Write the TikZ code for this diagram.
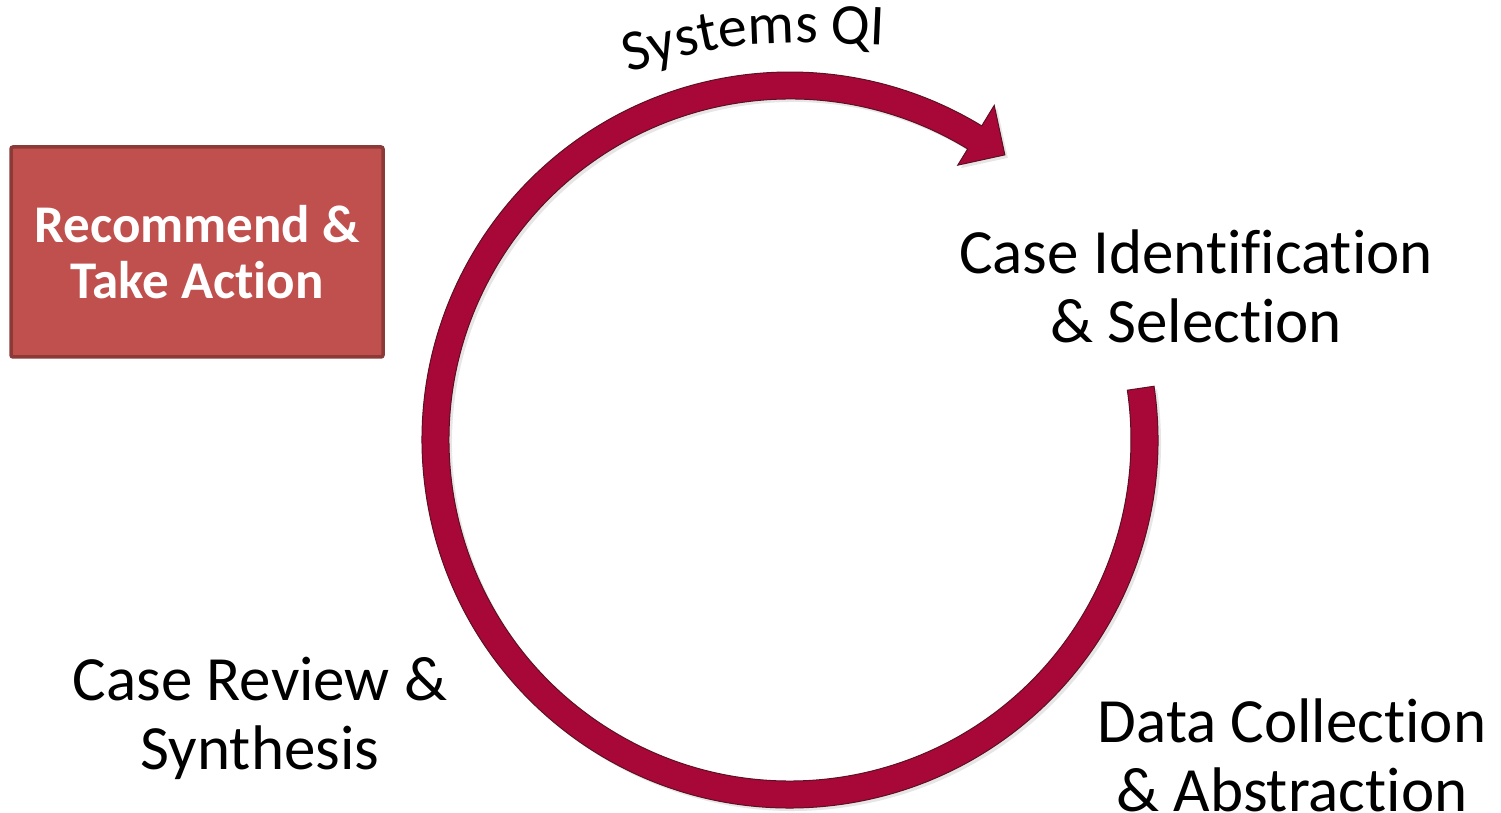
\documentclass[tikz,border=0pt]{standalone}
\usepackage{fontspec}
\setmainfont{Carlito}[Ligatures={NoCommon,NoRequired,NoContextual},Contextuals=NoAlternate]
\usetikzlibrary{decorations.text,shadows}
\definecolor{cyclered}{RGB}{168,8,56}
\definecolor{cycleedge}{RGB}{95,15,35}
\definecolor{boxfill}{HTML}{C0504D}
\definecolor{boxedge}{HTML}{8C3A38}
\newcommand\nolig{\kern0pt }
\begin{document}
\begin{tikzpicture}[x=1pt,y=1pt,
    steplabel/.style={align=center,font=\fontsize{63}{69}\selectfont},
    actbox/.style={fill=boxfill,draw=boxedge,line width=3.5pt,rounded corners=2pt,
      minimum width=372pt,minimum height=210pt,align=center,text=white,
      font=\bfseries\fontsize{53}{56}\selectfont}]
  \useasboundingbox (0,0) rectangle (1501,813);
  % the cycle arrow
  \begin{scope}[shift={(790,373)}]
    \fill[cyclered,draw=cycleedge,line width=1pt,
      drop shadow={shadow xshift=3pt,shadow yshift=-3pt,opacity=0.2}]
      (8.4:368) arc[start angle=8.4,end angle=-301.4,radius=368]
      -- (58.6:392) -- (53:357) -- (58.6:322) -- (58.6:341)
      arc[start angle=-301.4,end angle=8.4,radius=341] -- cycle;
  \end{scope}
  % labels
  \node[actbox] (recommend) at (197,561) {Recommend \&\\Take Act\nolig ion};
  \node[steplabel] (caseid) at (1196,527)
    {Case Identif\nolig icat\nolig ion\\\& Select\nolig ion};
  \node[steplabel] (datacoll) at (1292,58)
    {Data Collect\nolig ion\\\& Abstract\nolig ion};
  \node[steplabel] (review) at (260,95) {Case Review \&\\Synthesis};
  \path[decorate,decoration={text along path,text align=center,
      text={|\fontsize{58}{58}\selectfont|Systems QI}}]
    (600,732) .. controls (740,774) .. (914,766);
\end{tikzpicture}
\end{document}
